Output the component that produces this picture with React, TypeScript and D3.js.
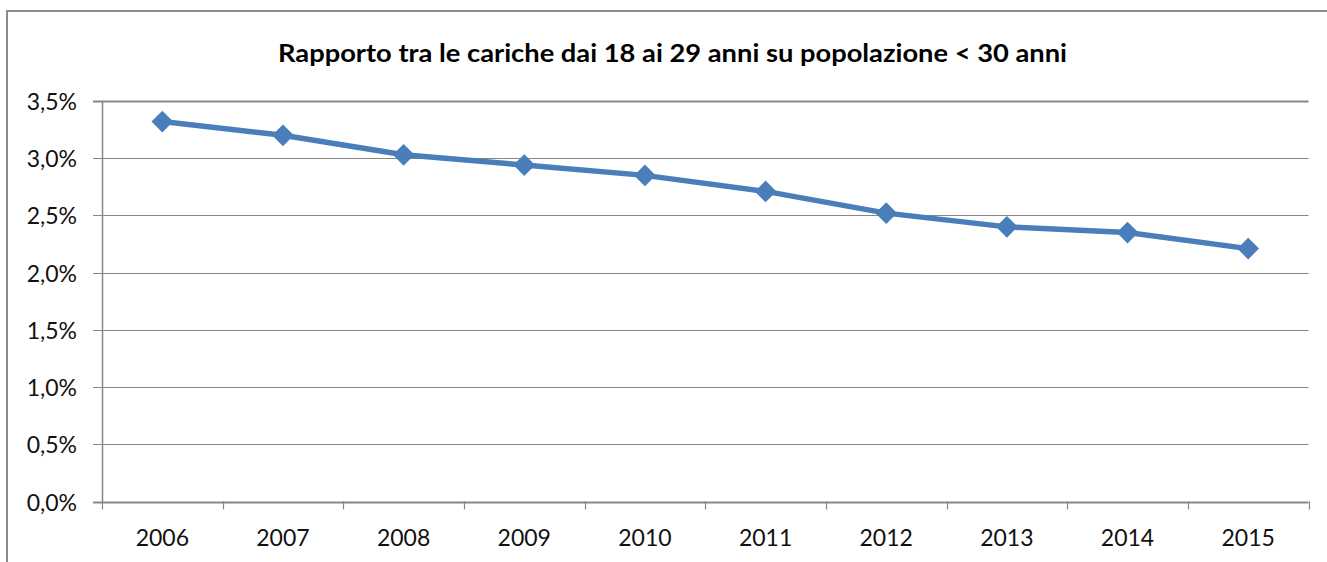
import { useEffect, useRef } from "react";
import * as d3 from "d3";

const years = ["2006", "2007", "2008", "2009", "2010", "2011", "2012", "2013", "2014", "2015"];
const ratios = [3.32, 3.2, 3.03, 2.94, 2.85, 2.71, 2.52, 2.4, 2.35, 2.21];
const yTicks = [0, 0.5, 1, 1.5, 2, 2.5, 3, 3.5];
const title = "Rapporto tra le cariche dai 18 ai 29 anni su popolazione < 30 anni";

function App() {
    const ref = useRef<SVGSVGElement>(null);
    const width = 1327;
    const height = 562;

    const plot = { left: 102, right: 1308.5, top: 101, bottom: 501.5 };
    const font = "Lato, 'Open Sans', sans-serif";
    const grey = "#878787";
    const blue = "#4a7ebb";

    useEffect(() => {
        const svg = d3.select(ref.current);
        svg.selectAll("*").remove();

        // chart border (runs off the right and bottom edges)
        svg.append("rect")
            .attr("x", 7)
            .attr("y", 11)
            .attr("width", width + 20)
            .attr("height", height + 20)
            .attr("fill", "white")
            .attr("stroke", "#8a8a8a")
            .attr("stroke-width", 2);

        svg.append("text")
            .text(title)
            .attr("x", 278)
            .attr("y", 62)
            .attr("textLength", 789)
            .attr("lengthAdjust", "spacingAndGlyphs")
            .style("font-family", font)
            .style("font-weight", 700)
            .style("font-size", "24px")
            .attr("fill", "#000");

        const xScale = d3.scaleBand()
            .domain(years)
            .range([plot.left, plot.right])
            .padding(0);

        const yScale = d3.scaleLinear()
            .domain([0, 3.5])
            .range([plot.bottom, plot.top]);

        // horizontal gridlines + y ticks
        svg.append("g")
            .selectAll("line")
            .data(yTicks)
            .join("line")
            .attr("x1", plot.left - 9)
            .attr("x2", plot.right)
            .attr("y1", d => Math.round(yScale(d)) + 0.5)
            .attr("y2", d => Math.round(yScale(d)) + 0.5)
            .attr("stroke", grey)
            .attr("stroke-width", d => (d === 0 || d === 3.5 ? 2 : 1.2));

        svg.append("g")
            .selectAll("text")
            .data(yTicks)
            .join("text")
            .text(d => d3.format(".1f")(d).replace(".", ",") + "%")
            .attr("x", 77)
            .attr("y", d => yScale(d))
            .attr("text-anchor", "end")
            .attr("dominant-baseline", "central")
            .style("font-family", font)
            .style("font-size", "23px")
            .attr("fill", "#111");

        // y axis line
        svg.append("line")
            .attr("x1", plot.left + 0.5)
            .attr("x2", plot.left + 0.5)
            .attr("y1", plot.top)
            .attr("y2", plot.bottom)
            .attr("stroke", grey)
            .attr("stroke-width", 1.5);

        // x tick marks at band boundaries
        const bounds = years.map(y => xScale(y) as number).concat([plot.right]);
        svg.append("g")
            .selectAll("line")
            .data(bounds)
            .join("line")
            .attr("x1", d => Math.round(d) + 0.5)
            .attr("x2", d => Math.round(d) + 0.5)
            .attr("y1", plot.bottom)
            .attr("y2", plot.bottom + 8)
            .attr("stroke", grey)
            .attr("stroke-width", 1.2);

        svg.append("g")
            .selectAll("text")
            .data(years)
            .join("text")
            .text(d => d)
            .attr("x", d => (xScale(d) as number) + xScale.bandwidth() / 2)
            .attr("y", 537)
            .attr("text-anchor", "middle")
            .attr("dominant-baseline", "central")
            .style("font-family", font)
            .style("font-size", "23px")
            .attr("fill", "#111");

        const cx = (i: number) => (xScale(years[i]) as number) + xScale.bandwidth() / 2;

        const line = d3.line<number>()
            .x((d, i) => cx(i))
            .y(d => yScale(d));

        svg.append("path")
            .datum(ratios)
            .attr("d", line)
            .attr("fill", "none")
            .attr("stroke", blue)
            .attr("stroke-width", 5.5)
            .attr("stroke-linejoin", "round");

        const diamond = d3.symbol().type(d3.symbolDiamond2).size(300);
        svg.append("g")
            .selectAll("path")
            .data(ratios)
            .join("path")
            .attr("d", diamond)
            .attr("transform", (d, i) => `translate(${cx(i)}, ${yScale(d)})`)
            .attr("fill", blue);
    }, []);

    return (
        <svg
            ref={ref}
            width={width}
            height={height}
            style={{ position: "absolute", left: 0, top: 0, background: "white" }}
        />
    );
}

export default App;
